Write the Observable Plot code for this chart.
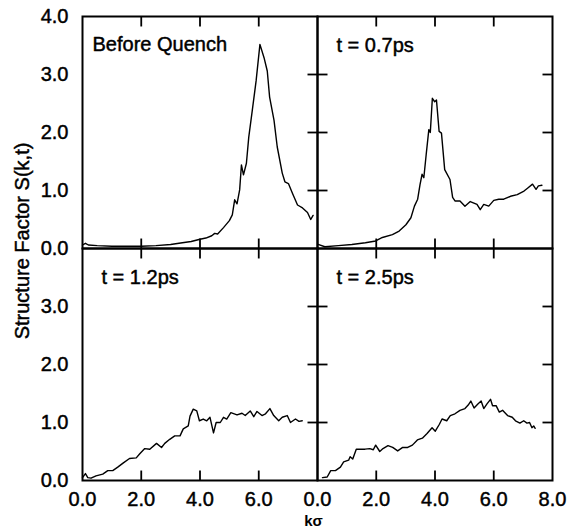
<!DOCTYPE html>
<html>
<head>
<meta charset="utf-8">
<script src="https://cdn.jsdelivr.net/npm/d3@7"></script>
<script src="https://cdn.jsdelivr.net/npm/@observablehq/plot@0.6"></script>
<style>
  html, body { margin: 0; padding: 0; background: #fff; }
</style>
</head>
<body>
<div id="chart"></div>
<script>
// ---- data ----
const panelNames = ["Before Quench", "t = 0.7ps", "t = 1.2ps", "t = 2.5ps"];
const panelCols = ["L", "R", "L", "R"];
const panelRows = ["T", "T", "B", "B"];

const kBefore = [0.0, 0.1, 0.2, 0.5, 1.0, 1.5, 2.0, 2.5, 3.0, 3.4, 3.7, 4.0, 4.2, 4.4, 4.5, 4.6, 4.8, 5.0, 5.1, 5.18, 5.26, 5.35, 5.41, 5.48, 5.58, 5.66, 5.78, 5.91, 6.04, 6.18, 6.29, 6.37, 6.52, 6.63, 6.80, 6.89, 7.01, 7.15, 7.32, 7.49, 7.66, 7.77, 7.85];
const sBefore = [0.06, 0.09, 0.06, 0.05, 0.04, 0.04, 0.04, 0.05, 0.07, 0.10, 0.12, 0.16, 0.18, 0.22, 0.26, 0.25, 0.36, 0.48, 0.58, 0.84, 0.77, 1.01, 1.44, 1.27, 1.47, 1.92, 2.38, 2.89, 3.52, 3.29, 3.06, 2.61, 2.21, 1.75, 1.30, 1.15, 1.12, 0.95, 0.75, 0.70, 0.62, 0.50, 0.57];

const k07 = [0.02, 0.25, 0.71, 1.17, 1.63, 1.98, 2.21, 2.55, 2.78, 3.01, 3.18, 3.30, 3.41, 3.49, 3.56, 3.62, 3.70, 3.79, 3.84, 3.91, 3.99, 4.05, 4.14, 4.22, 4.33, 4.51, 4.60, 4.68, 4.85, 5.02, 5.20, 5.43, 5.54, 5.66, 5.83, 6.00, 6.17, 6.34, 6.57, 6.80, 7.03, 7.15, 7.32, 7.44, 7.52, 7.64];
const s07 = [0.07, 0.03, 0.05, 0.07, 0.10, 0.13, 0.19, 0.24, 0.30, 0.41, 0.53, 0.73, 0.85, 1.10, 1.28, 1.22, 1.62, 2.05, 2.00, 2.59, 2.53, 2.56, 2.02, 1.99, 1.36, 1.19, 0.88, 0.82, 0.82, 0.73, 0.81, 0.76, 0.67, 0.76, 0.73, 0.83, 0.85, 0.85, 0.90, 0.93, 0.99, 1.04, 1.11, 1.02, 1.08, 1.09];

const k12 = [0.0, 0.1, 0.18, 0.29, 0.46, 0.69, 0.86, 1.03, 1.2, 1.38, 1.60, 1.83, 1.95, 2.12, 2.29, 2.52, 2.69, 2.80, 2.97, 3.14, 3.32, 3.43, 3.60, 3.66, 3.77, 3.89, 3.98, 4.11, 4.23, 4.34, 4.46, 4.55, 4.69, 4.80, 4.91, 5.05, 5.26, 5.43, 5.54, 5.71, 5.83, 5.94, 6.11, 6.23, 6.38, 6.51, 6.68, 6.80, 6.97, 7.08, 7.25, 7.37, 7.48];
const s12 = [0.05, 0.12, 0.05, 0.04, 0.08, 0.11, 0.17, 0.17, 0.23, 0.30, 0.38, 0.39, 0.46, 0.55, 0.54, 0.64, 0.57, 0.64, 0.71, 0.77, 0.77, 0.89, 0.94, 1.11, 1.23, 1.20, 1.03, 1.06, 1.03, 1.09, 0.82, 1.00, 1.00, 1.09, 1.06, 1.17, 1.13, 1.16, 1.12, 1.20, 1.10, 1.19, 1.12, 1.15, 1.24, 1.12, 1.03, 1.09, 1.12, 1.00, 1.06, 1.02, 1.03];

const k25 = [0.17, 0.33, 0.45, 0.61, 0.78, 0.89, 1.06, 1.11, 1.20, 1.32, 1.45, 1.62, 1.78, 1.90, 1.98, 2.12, 2.23, 2.40, 2.56, 2.73, 2.90, 3.07, 3.23, 3.40, 3.57, 3.73, 3.90, 4.01, 4.15, 4.24, 4.40, 4.52, 4.68, 4.85, 5.02, 5.13, 5.22, 5.33, 5.46, 5.57, 5.66, 5.77, 5.89, 5.96, 6.08, 6.19, 6.30, 6.47, 6.63, 6.74, 6.89, 7.02, 7.13, 7.22, 7.30, 7.36, 7.41];
const s25 = [0.05, 0.06, 0.17, 0.17, 0.23, 0.32, 0.35, 0.41, 0.37, 0.54, 0.54, 0.54, 0.55, 0.53, 0.61, 0.50, 0.55, 0.60, 0.57, 0.51, 0.57, 0.57, 0.61, 0.70, 0.73, 0.81, 0.91, 0.85, 0.97, 1.06, 1.03, 1.12, 1.15, 1.21, 1.24, 1.30, 1.37, 1.25, 1.32, 1.37, 1.24, 1.32, 1.40, 1.29, 1.29, 1.18, 1.21, 1.12, 1.09, 1.03, 0.99, 1.03, 0.99, 1.00, 0.91, 0.94, 0.90];

const xDomain = [0, 8];
const yDomain = [0, 4];
const yTickLabels = [0, 1, 2, 3];
const yTopOnlyLabel = [4];
const xTickLabels = [0, 2, 4, 6];
const xRightOnlyLabel = [8];
const xInnerTicks = [2, 4, 6];
const yInnerTicks = [1, 2, 3];
const yTitle = "Structure Factor S(k,t)";
const xTitle = "kσ";

// ---- build tables ----
const seriesK = [kBefore, k07, k12, k25];
const seriesS = [sBefore, s07, s12, s25];
const rows = [];
seriesK.forEach((ks, p) => {
  ks.forEach((k, i) => rows.push({panel: panelNames[p], col: panelCols[p], row: panelRows[p], k, s: seriesS[p][i]}));
});
const labels = panelNames.map((name, p) => ({name, col: panelCols[p], row: panelRows[p]}));
// tick tables: one row per facet and tick value
const facetCells = panelCols.map((c, p) => ({col: c, row: panelRows[p]}));
const xTickRows = facetCells.flatMap(f => xInnerTicks.map(v => ({...f, v})));
const yTickRows = facetCells.flatMap(f => yInnerTicks.map(v => ({...f, v})));
const yTickRowsRightCol = yTickRows.filter(d => d.col === "R");

// ---- layout ----
const W = 576, H = 531, mL = 82, mR = 24, mT = 15, mB = 51;
const facetW = (W - mL - mR) / 2;
const facetH = (H - mT - mB) / 2;
const TS = 10; // inward tick length in px
const tyLen = TS * (yDomain[1] - yDomain[0]) / facetH; // tick length in y units
const txLen = TS * (xDomain[1] - xDomain[0]) / facetW; // tick length in x units
const fmt = d => d.toFixed(1);
const ink = "black";
const heavy = {stroke: ink, strokeWidth: 0.45};
const heavyAxis = {textStroke: ink, textStrokeWidth: 0.45};
const tk = {stroke: ink, strokeWidth: 1.8};

const chart = Plot.plot({
  width: W,
  height: H,
  marginLeft: mL,
  marginRight: mR,
  marginTop: mT,
  marginBottom: mB,
  style: {fontFamily: "'Liberation Sans', Arial, sans-serif", fontSize: "20px"},
  x: {domain: xDomain},
  y: {domain: yDomain},
  fx: {domain: ["L", "R"], axis: null, padding: 0},
  fy: {domain: ["T", "B"], axis: null, padding: 0},
  marks: [
    // tick labels
    Plot.axisY(yTickLabels, {anchor: "left", tickSize: 0, tickPadding: 14, tickFormat: fmt, label: null, ...heavyAxis}),
    Plot.text(yTopOnlyLabel, {y: d => d, fx: () => "L", fy: () => "T", frameAnchor: "left", textAnchor: "end", dx: -14, text: fmt, fill: ink, ...heavy}),
    Plot.axisX(xTickLabels, {anchor: "bottom", tickSize: 0, tickPadding: 11, tickFormat: fmt, label: null, ...heavyAxis}),
    Plot.text(xRightOnlyLabel, {x: d => d, fx: () => "R", fy: () => "B", frameAnchor: "bottom", lineAnchor: "top", dy: 11, text: fmt, fill: ink, ...heavy}),
    // curves
    Plot.line(rows, {x: "k", y: "s", z: "panel", fx: "col", fy: "row", stroke: ink, strokeWidth: 1.4}),
    // panel labels
    Plot.text(labels.filter((d, i) => i === 0), {fx: "col", fy: "row", text: "name", frameAnchor: "top-left", dx: 10, dy: 20, fill: ink, ...heavy}),
    Plot.text(labels.filter((d, i) => i > 0), {fx: "col", fy: "row", text: "name", frameAnchor: "top-left", dx: 19, dy: 21, fill: ink, ...heavy}),
    Plot.frame({stroke: ink, strokeWidth: 2}),
    // inward ticks on every panel (faceted through the same fx/fy channels as the curves)
    Plot.link(xTickRows, {x1: "v", x2: "v", y1: () => yDomain[1], y2: () => yDomain[1] - tyLen, fx: "col", fy: "row", ...tk}),
    Plot.link(xTickRows, {x1: "v", x2: "v", y1: () => yDomain[0], y2: () => yDomain[0] + tyLen, fx: "col", fy: "row", ...tk}),
    Plot.link(yTickRows, {y1: "v", y2: "v", x1: () => xDomain[1], x2: () => xDomain[1] - txLen, fx: "col", fy: "row", ...tk}),
    Plot.link(yTickRowsRightCol, {y1: "v", y2: "v", x1: () => xDomain[0], x2: () => xDomain[0] + txLen, fx: "col", fy: "row", ...tk}),
    // axis titles
    Plot.text([yTitle], {fx: () => "L", fy: () => "T", frameAnchor: "bottom-left", textAnchor: "middle", lineAnchor: "middle", rotate: -90, dx: -60, dy: -7.5, fill: ink, ...heavy}),
    Plot.text([xTitle], {fx: () => "L", fy: () => "B", frameAnchor: "bottom-right", textAnchor: "middle", lineAnchor: "middle", dx: -4, dy: 41, fontSize: 15, fontWeight: "bold", fill: ink})
  ]
});
document.getElementById("chart").appendChild(chart);
</script>
</body>
</html>
